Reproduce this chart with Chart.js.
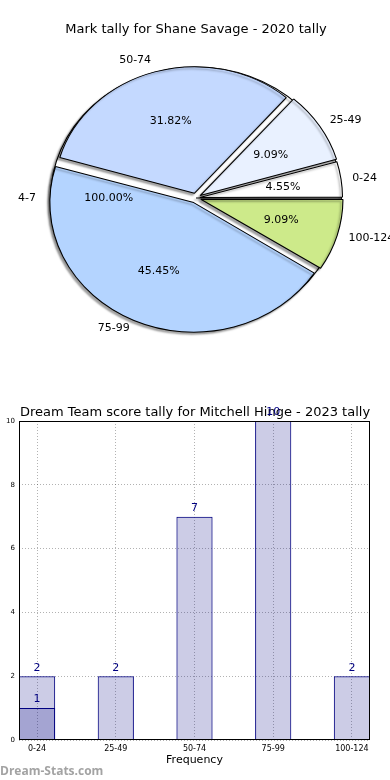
<!DOCTYPE html>
<html lang="en">
<head>
    <meta charset="UTF-8">
    <title>Mark tally</title>
    <script src="https://cdn.jsdelivr.net/npm/chart.js@4.4.0/dist/chart.umd.min.js"></script>
    <style>
        body { margin: 0; background: #fff; font-family: "DejaVu Sans", sans-serif; }
        .wrap { position: relative; width: 390px; height: 780px; overflow: hidden; }
        .wrap canvas { position: absolute; left: 0; }
        #watermark {
            position: absolute; left: 0; top: 762px;
            font: bold 12px "Open Sans", sans-serif; color: #a3a3a3;
        }
    </style>
</head>
<body>
<div class="wrap">
    <canvas id="bgPie" width="390" height="380" style="top:0"></canvas>
    <canvas id="pieChart" width="390" height="380" style="top:0"></canvas>
    <canvas id="barChart" width="390" height="380" style="top:400px"></canvas>
    <div id="watermark">Dream-Stats.com</div>
</div>

<script>
// pie data (clockwise from 3 o'clock = matplotlib's counter-clockwise order reversed)
const pieLabels = ['100-124', '75-99', '50-74', '25-49', '0-24'];
const pieValues = [2, 10, 7, 2, 1];
const pieColors = ['#cdea8a', '#b4d4ff', '#c4d9ff', '#e9f1ff', '#ffffff'];

// the single-wedge pie drawn underneath
const bgLabels = ['4-7'];
const bgValues = [1];

// bar data
const barLabels = ['0-24', '25-49', '50-74', '75-99', '100-124'];
const barValues = [2, 2, 7, 10, 2];
const barValues2 = [1]; // overlay for first bin
const yTicks = [0, 2, 4, 6, 8, 10];

const FONT = '"DejaVu Sans", sans-serif';
const STRETCH = 1.11; // pie is a bit wider than tall

// write outer labels + percentages of a pie chart onto ctx
function drawPieLabels(chart, ctx) {
    const ds = chart.data.datasets[0];
    const total = ds.data.reduce((a, b) => a + b, 0);
    ctx.save();
    ctx.fillStyle = '#000';
    ctx.font = '11px ' + FONT;
    ctx.textBaseline = 'middle';
    chart.getDatasetMeta(0).data.forEach((arc, i) => {
        const p = arc.getProps(['x', 'y', 'startAngle', 'endAngle', 'outerRadius']);
        const off = (arc.options.offset || 0) / 4; // chart.js moves arcs by offset / 4
        const mid = (p.startAngle + p.endAngle) / 2;
        const c = Math.cos(mid), s = Math.sin(mid);
        const d1 = p.outerRadius * 1.1 + off;
        ctx.textAlign = c < -1e-6 ? 'right' : 'left';
        ctx.fillText(chart.data.labels[i], p.x + STRETCH * d1 * c, p.y + d1 * s);
        const d2 = p.outerRadius * 0.6 + off;
        ctx.textAlign = 'center';
        const pct = (ds.data[i] / total * 100).toFixed(2) + '%';
        ctx.fillText(pct, p.x + STRETCH * d2 * c, p.y + d2 * s);
    });
    ctx.restore();
}

// squash the pie into an ellipse and give it a drop shadow
const pieShape = {
    id: 'pieShape',
    beforeDatasetsDraw(chart) {
        const ctx = chart.ctx;
        const el = chart.getDatasetMeta(0).data[0];
        ctx.save();
        ctx.translate(el.x, el.y);
        ctx.scale(STRETCH, 1);
        ctx.translate(-el.x, -el.y);
        ctx.shadowColor = 'rgba(0,0,0,0.35)';
        ctx.shadowOffsetX = -2;
        ctx.shadowOffsetY = 2;
        ctx.shadowBlur = 2;
    },
    afterDatasetsDraw(chart) {
        chart.ctx.restore();
    }
};

const noPlugins = { legend: { display: false }, tooltip: { enabled: false } };

// wedge "4-7" underneath
const bgPie = new Chart(document.getElementById('bgPie'), {
    type: 'pie',
    data: {
        labels: bgLabels,
        datasets: [{
            data: bgValues,
            backgroundColor: '#ffffff',
            borderColor: '#000',
            borderWidth: 1,
            offset: 0,
            hoverOffset: 0
        }]
    },
    options: {
        responsive: false,
        animation: false,
        events: [],
        rotation: 90,
        radius: 131,
        layout: { padding: { left: 2, right: 0, top: 50, bottom: 34 } },
        plugins: { ...noPlugins, title: { display: false } }
    },
    plugins: [pieShape]
});

// main pie, labels of both pies are written on top of it
new Chart(document.getElementById('pieChart'), {
    type: 'pie',
    data: {
        labels: pieLabels,
        datasets: [{
            data: pieValues,
            backgroundColor: pieColors,
            borderColor: '#000',
            borderWidth: 1,
            offset: [18, 20, 20, 18, 14],
            hoverOffset: 0
        }]
    },
    options: {
        responsive: false,
        animation: false,
        events: [],
        rotation: 90,
        radius: 126,
        layout: { padding: { left: 2, right: 0, top: 0, bottom: 34 } },
        plugins: {
            ...noPlugins,
            title: {
                display: true,
                text: 'Mark tally for Shane Savage - 2020 tally',
                color: '#000',
                font: { family: FONT, size: 13, weight: 'normal' },
                padding: { top: 22, bottom: 12.4 }
            }
        }
    },
    plugins: [pieShape, {
        id: 'pieLabels',
        afterDatasetsDraw(chart) {
            drawPieLabels(bgPie, chart.ctx);
            drawPieLabels(chart, chart.ctx);
        }
    }]
});

// frame round the plot + value labels on bars
const barDecor = {
    id: 'barDecor',
    afterDatasetsDraw(chart) {
        const ctx = chart.ctx;
        const a = chart.chartArea;
        ctx.save();
        ctx.strokeStyle = '#000';
        ctx.lineWidth = 1;
        ctx.strokeRect(Math.round(a.left) + 0.5, Math.round(a.top) + 0.5,
            Math.round(a.right - a.left) - 1, Math.round(a.bottom - a.top) - 1);
        ctx.fillStyle = '#000080';
        ctx.font = '11px ' + FONT;
        ctx.textAlign = 'center';
        ctx.textBaseline = 'bottom';
        chart.data.datasets.forEach((ds, di) => {
            chart.getDatasetMeta(di).data.forEach((bar, i) => {
                ctx.fillText(String(ds.data[i].y), bar.x, bar.y - 3);
            });
        });
        ctx.restore();
    }
};

const gridStyle = {
    color: 'rgba(0,0,0,0.3)',
    lineWidth: 1,
    drawTicks: false,
    offset: false
};

const barStyle = {
    backgroundColor: 'rgba(0,0,128,0.2)',
    borderColor: '#000080',
    borderWidth: 1,
    grouped: false,
    barPercentage: 0.46,
    categoryPercentage: 1
};

new Chart(document.getElementById('barChart'), {
    type: 'bar',
    data: {
        datasets: [
            { ...barStyle, data: barValues.map((v, i) => ({ x: i, y: v })) },
            { ...barStyle, data: barValues2.map((v, i) => ({ x: i, y: v })) }
        ]
    },
    options: {
        responsive: false,
        animation: false,
        events: [],
        layout: { padding: 0 },
        plugins: {
            ...noPlugins,
            title: {
                display: true,
                text: 'Dream Team score tally for Mitchell Hinge - 2023 tally',
                color: '#000',
                font: { family: FONT, size: 13, weight: 'normal' },
                padding: { top: 5, bottom: 0.4 }
            }
        },
        scales: {
            x: {
                type: 'linear',
                offset: false,
                min: -0.23,
                max: 4.23,
                afterBuildTicks: axis => { axis.ticks = barLabels.map((l, i) => ({ value: i })); },
                afterFit: axis => { axis.height = 40; },
                ticks: {
                    color: '#000',
                    font: { family: FONT, size: 8 },
                    padding: 4,
                    maxRotation: 0,
                    callback: v => barLabels[v]
                },
                grid: gridStyle,
                border: { display: false, dash: [1, 2] },
                title: {
                    display: true,
                    text: 'Frequency',
                    color: '#000',
                    font: { family: FONT, size: 11 },
                    padding: { top: 0, bottom: 13.4 }
                }
            },
            y: {
                min: 0,
                max: 10,
                afterBuildTicks: axis => { axis.ticks = yTicks.map(v => ({ value: v })); },
                afterFit: axis => { axis.width = 19; },
                ticks: {
                    color: '#000',
                    font: { family: FONT, size: 7 },
                    padding: 4
                },
                grid: gridStyle,
                border: { display: false, dash: [1, 2] }
            },
            yRight: {
                position: 'right',
                min: 0,
                max: 10,
                afterFit: axis => { axis.width = 20; },
                ticks: { display: false },
                grid: { display: false },
                border: { display: false }
            }
        }
    },
    plugins: [barDecor]
});
</script>
</body>
</html>
